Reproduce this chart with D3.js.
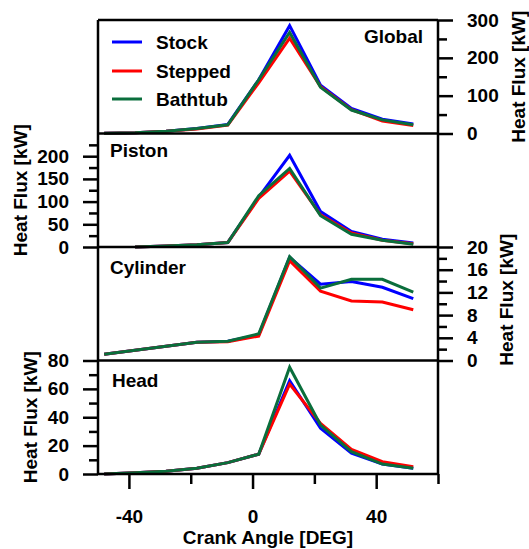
<!DOCTYPE html>
<html>
<head>
<meta charset="utf-8">
<script src="https://cdn.jsdelivr.net/npm/d3@7"></script>
<style>
  html, body { margin: 0; padding: 0; background: #fff; }
  svg { display: block; font-family: "Liberation Sans", Arial, sans-serif; font-weight: bold; }
</style>
</head>
<body>
<svg id="chart" width="529" height="549"></svg>
<script>
// Crank angle sample positions [deg]
const crankAngle = [-48, -38, -28, -18, -8, 2, 12, 22, 32, 42, 52];

// Heat flux per surface [kW]
const globalStock    = [0.5, 2, 6, 13, 24, 142, 285, 128, 66, 38, 25];
const globalStepped  = [0.5, 2, 6, 12, 22, 134, 252, 124, 63, 33, 21];
const globalBathtub  = [0.5, 2, 6, 13, 23, 142, 267, 122, 62, 36, 23];

const pistonStock    = [null, 0, 2, 5, 10, 110, 202, 78, 34, 17, 9];
const pistonStepped  = [null, 0, 2, 5, 10, 107, 167, 71, 31, 15, 7];
const pistonBathtub  = [null, 0, 2, 5, 10, 113, 173, 69, 28, 15, 6];

const cylinderStock   = [1.1, 1.8, 2.5, 3.2, 3.4, 4.5, 18.2, 13.45, 13.9, 12.9, 10.9];
const cylinderStepped = [1.1, 1.8, 2.5, 3.2, 3.3, 4.3, 17.6, 12.2, 10.5, 10.3, 8.95];
const cylinderBathtub = [1.1, 1.8, 2.5, 3.2, 3.4, 4.7, 18.3, 12.75, 14.3, 14.3, 12.05];

const headStock    = [0, 0.8, 2, 4, 8, 14, 65.8, 32.2, 14.6, 7, 4];
const headStepped  = [0, 0.8, 2, 4, 8, 14, 63.4, 35.7, 17.4, 8.7, 5.2];
const headBathtub  = [0, 0.8, 2, 4, 8, 14, 75.2, 34.5, 15.7, 7, 4];

const seriesNames  = ["Stock", "Stepped", "Bathtub"];
const seriesColors = ["#0000ff", "#ff0000", "#0a6e3c"];

const xMajorTicks = [-40, 0, 40];
const xMinorTicks = [-20, 20, 60];

const panels = [
  { label: "Global",   side: "right", domain: [0, 300], major: [0, 100, 200, 300], minor: [50, 150, 250],
    series: [globalStock, globalStepped, globalBathtub] },
  { label: "Piston",   side: "left",  domain: [0, 250], major: [0, 50, 100, 150, 200], minor: [25, 75, 125, 175, 225],
    series: [pistonStock, pistonStepped, pistonBathtub] },
  { label: "Cylinder", side: "right", domain: [0, 20],  major: [0, 4, 8, 12, 16, 20], minor: [2, 6, 10, 14, 18],
    series: [cylinderStock, cylinderStepped, cylinderBathtub] },
  { label: "Head",     side: "left",  domain: [0, 80],  major: [0, 20, 40, 60, 80], minor: [10, 30, 50, 70],
    series: [headStock, headStepped, headBathtub] }
];

// Layout
const plotLeft = 98, plotRight = 438, plotTop = 20, panelH = 113.5;
const plotBottom = plotTop + panelH * panels.length;
const fontSize = 19;
const frameW = 2.5;

// Plain hyphen-minus for negative tick labels
const tickText = d => String(d);

const svg = d3.select("#chart");
const x = d3.scaleLinear().domain([-50, 60]).range([plotLeft, plotRight]);

function styleAxis(g) {
  g.select(".domain").remove();
  g.selectAll(".tick line").attr("stroke", "#000").attr("stroke-width", frameW);
  g.selectAll(".tick text").attr("fill", "#000").style("font-size", fontSize + "px").style("font-weight", "bold")
    .style("font-family", '"Liberation Sans", Arial, sans-serif');
}

panels.forEach((p, i) => {
  const y0 = plotTop + i * panelH;
  const y = d3.scaleLinear().domain(p.domain).range([y0 + panelH, y0]);

  // Data lines (drawn Stock, Stepped, Bathtub in that order)
  const line = d3.line()
    .defined(d => d[1] != null)
    .x(d => x(d[0]))
    .y(d => y(d[1]));
  p.series.forEach((vals, k) => {
    svg.append("path")
      .datum(crankAngle.map((a, j) => [a, vals[j]]))
      .attr("d", line)
      .attr("fill", "none")
      .attr("stroke", seriesColors[k])
      .attr("stroke-width", 3)
      .attr("stroke-linejoin", "miter");
  });

  // Y axis: minor ticks and labelled major ticks
  const axisFn = p.side === "left" ? d3.axisLeft : d3.axisRight;
  const ax = p.side === "left" ? plotLeft : plotRight;
  svg.append("g")
    .attr("transform", `translate(${ax},0)`)
    .call(axisFn(y).tickValues(p.minor).tickSize(9).tickFormat(""))
    .call(styleAxis);
  svg.append("g")
    .attr("transform", `translate(${ax},0)`)
    .call(axisFn(y).tickValues(p.major).tickSize(15).tickPadding(14).tickFormat(tickText))
    .call(styleAxis);

  // Axis title
  const titleX = p.side === "left" ? (i === 1 ? 20 : 30) : (i === 0 ? 518.5 : 506.5);
  const titleY = y0 + panelH / 2 + (i === 2 ? -4 : 0);
  svg.append("text")
    .attr("transform", `translate(${titleX},${titleY}) rotate(-90)`)
    .attr("text-anchor", "middle")
    .attr("dy", "0.35em")
    .style("font-size", fontSize + "px")
    .text("Heat Flux [kW]");

  // Panel label
  const lab = svg.append("text")
    .attr("y", y0 + (i <= 1 ? 23 : 26.5))
    .style("font-size", fontSize + "px")
    .text(p.label);
  if (i === 0) lab.attr("x", 423).attr("text-anchor", "end");
  else lab.attr("x", i === 3 ? 112 : 110);
});

// Panel frame and separators
const frame = svg.append("g").attr("stroke", "#000").attr("stroke-width", frameW).attr("fill", "none");
frame.append("line").attr("x1", plotLeft).attr("x2", plotLeft).attr("y1", plotTop).attr("y2", plotBottom);
frame.append("line").attr("x1", plotRight).attr("x2", plotRight).attr("y1", plotTop).attr("y2", plotBottom);
d3.range(panels.length + 1).forEach(i => {
  const yy = plotTop + i * panelH;
  frame.append("line").attr("x1", plotLeft).attr("x2", plotRight).attr("y1", yy).attr("y2", yy);
});

// Crank angle axis
svg.append("g")
  .attr("transform", `translate(0,${plotBottom})`)
  .call(d3.axisBottom(x).tickValues(xMinorTicks).tickSize(10).tickFormat(""))
  .call(styleAxis);
svg.append("g")
  .attr("transform", `translate(0,${plotBottom})`)
  .call(d3.axisBottom(x).tickValues(xMajorTicks).tickSize(15).tickPadding(21).tickFormat(tickText))
  .call(styleAxis);

svg.append("text")
  .attr("x", (plotLeft + plotRight) / 2)
  .attr("y", 544)
  .attr("text-anchor", "middle")
  .style("font-size", fontSize + "px")
  .text("Crank Angle [DEG]");

// Legend
const legendY = [42, 71, 99];
seriesNames.forEach((name, k) => {
  svg.append("line")
    .attr("x1", 112).attr("x2", 142)
    .attr("y1", legendY[k]).attr("y2", legendY[k])
    .attr("stroke", seriesColors[k]).attr("stroke-width", 3);
  svg.append("text")
    .attr("x", 156).attr("y", legendY[k] + 6.5)
    .style("font-size", fontSize + "px")
    .text(name);
});
</script>
</body>
</html>
